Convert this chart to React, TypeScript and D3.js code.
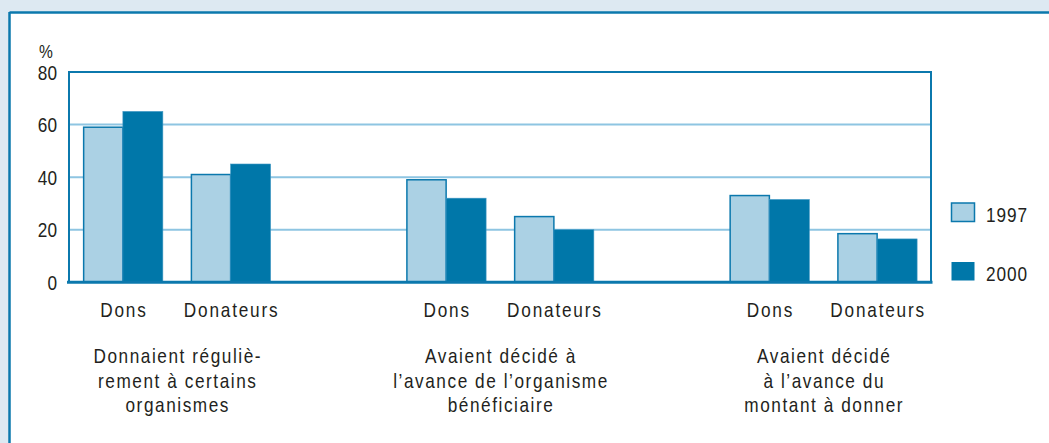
import { useEffect, useRef } from 'react';
import * as d3 from 'd3';

// data
const subCategories = ['Dons', 'Donateurs'];
const groupLabels = [
  ['Donnaient réguliè-', 'rement à certains', 'organismes'],
  ['Avaient décidé à', 'l’avance de l’organisme', 'bénéficiaire'],
  ['Avaient décidé', 'à l’avance du', 'montant à donner'],
];
const years = ['1997', '2000'];
const values1997 = [59, 41, 39, 25, 33, 18.5];
const values2000 = [65, 45, 32, 20, 31.5, 16.5];
const yTicks = [0, 20, 40, 60, 80];

const W = 1049;
const H = 443;
const FONT = '"Liberation Sans", Arial, sans-serif';
const SQ = 0.82; // horizontal squeeze to mimic a condensed face
const INK = '#231f20';
const LIGHT = '#abd1e4';
const DARK = '#0077a9';
const LINE = '#0b78ad';
const GRID = '#8ec5e2';

type Sel = d3.Selection<any, unknown, null, undefined>;

// condensed text helper
const label = (
  parent: Sel,
  tx: number,
  ty: number,
  text: string,
  anchor: 'start' | 'middle' | 'end',
  size: number,
  spacing: number,
) =>
  parent.append('text')
    .attr('transform', `translate(${tx},${ty}) scale(${SQ},1)`)
    .attr('text-anchor', anchor)
    .attr('font-family', FONT)
    .attr('font-size', size)
    .attr('letter-spacing', spacing)
    .attr('fill', INK)
    .text(text);

export default function App() {
  const ref = useRef<SVGSVGElement | null>(null);

  useEffect(() => {
    document.body.style.margin = '0';
    const svg = d3.select(ref.current) as unknown as Sel;
    svg.selectAll('*').remove();

    const margin = { top: 72, right: 118, bottom: 161, left: 69 };
    const x0 = margin.left;
    const x1 = W - margin.right;
    const yBottom = H - margin.bottom + 0.3;

    // background + panel
    svg.append('rect').attr('width', W).attr('height', H).attr('fill', '#dde9f2');
    svg.append('rect').attr('x', 10).attr('y', 12.5).attr('width', W).attr('height', H).attr('fill', '#fff');
    svg.append('line').attr('x1', 9.5).attr('x2', W).attr('y1', 12.5).attr('y2', 12.5)
      .attr('stroke', LINE).attr('stroke-width', 2.5);
    svg.append('line').attr('x1', 9.5).attr('x2', 9.5).attr('y1', 12).attr('y2', H)
      .attr('stroke', LINE).attr('stroke-width', 2.5);

    // slots: two per group, with an empty slot between groups
    const slots: string[] = [];
    groupLabels.forEach((_, gi) => {
      subCategories.forEach(c => slots.push(`${gi}-${c}`));
      if (gi < groupLabels.length - 1) slots.push(`gap${gi}`);
    });

    const x = d3.scaleBand<string>().domain(slots).range([x0, x1])
      .paddingInner(0.258).paddingOuter(0.129);
    const xYear = d3.scaleBand<string>().domain(years).range([0, x.bandwidth()]);
    const y = d3.scaleLinear().domain([0, 80]).range([yBottom, margin.top]);

    // gridlines
    svg.append('g').selectAll('line')
      .data(yTicks.filter(t => t > 0 && t < 80))
      .join('line')
      .attr('x1', x0).attr('x2', x1)
      .attr('y1', d => y(d)).attr('y2', d => y(d))
      .attr('stroke', GRID).attr('stroke-width', 2);

    // plot frame
    svg.append('path')
      .attr('d', `M${x0},${yBottom} V${margin.top} H${x1} V${yBottom}`)
      .attr('fill', 'none').attr('stroke', LINE).attr('stroke-width', 2);

    // bars
    const rows = slots.filter(s => !s.startsWith('gap')).map((s, i) => ({
      slot: s,
      vals: [values1997[i], values2000[i]],
    }));
    const bars = svg.append('g');
    rows.forEach(r => {
      years.forEach((yr, k) => {
        const v = r.vals[k];
        bars.append('rect')
          .attr('x', (x(r.slot) ?? 0) + xYear(yr)! + (k === 0 ? 0.75 : 0))
          .attr('y', y(v))
          .attr('width', xYear.bandwidth() - (k === 0 ? 0.75 : 0))
          .attr('height', yBottom - y(v))
          .attr('fill', k === 0 ? LIGHT : DARK)
          .attr('stroke', k === 0 ? LINE : '#3f97c4')
          .attr('stroke-width', k === 0 ? 1.5 : 0.6);
      });
    });

    // x axis line
    svg.append('line').attr('x1', x0 - 2).attr('x2', x1 + 1.5)
      .attr('y1', yBottom).attr('y2', yBottom)
      .attr('stroke', LINE).attr('stroke-width', 3);

    // y tick labels
    yTicks.forEach(t => label(svg, 57, y(t) + 7.5, String(t), 'end', 21, 0));
    label(svg, 46, 58, '%', 'middle', 19, 0);

    // sub-category labels
    rows.forEach(r => {
      const cx = (x(r.slot) ?? 0) + x.bandwidth() / 2 + 1;
      label(svg, cx, 317, r.slot.split('-')[1], 'middle', 21, 2.2);
    });

    // group labels
    groupLabels.forEach((lines, gi) => {
      const a = x(`${gi}-${subCategories[0]}`)!;
      const b = x(`${gi}-${subCategories[1]}`)! + x.bandwidth();
      lines.forEach((l, li) => label(svg, (a + b) / 2 + 1, 363 + li * 24.5, l, 'middle', 21, 1.9));
    });

    // legend
    years.forEach((yr, k) => {
      const ly = 203 + k * 59;
      svg.append('rect')
        .attr('x', 951.5).attr('y', ly).attr('width', 23).attr('height', 18.5)
        .attr('fill', k === 0 ? LIGHT : DARK)
        .attr('stroke', k === 0 ? LINE : 'none').attr('stroke-width', 1.5);
      label(svg, 986, ly + 19, yr, 'start', 21, 1.1);
    });
  }, []);

  return <svg ref={ref} width={W} height={H} style={{ display: 'block' }}></svg>;
}
